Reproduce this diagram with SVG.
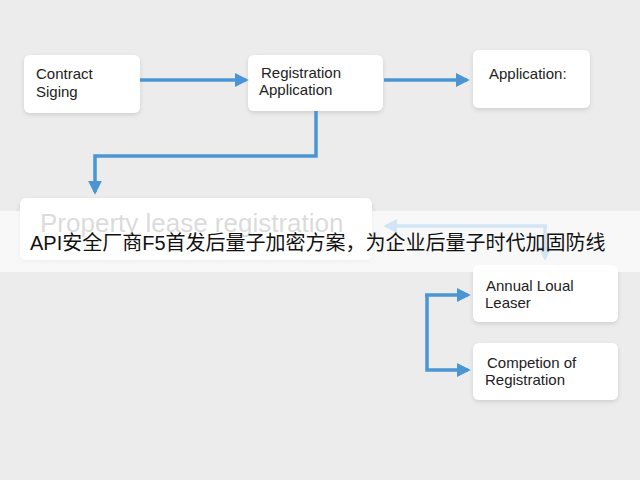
<svg xmlns="http://www.w3.org/2000/svg" width="640" height="480" viewBox="0 0 640 480">
<defs>
<marker id="ah" viewBox="0 0 10 10" refX="8" refY="5" markerWidth="4" markerHeight="4" orient="auto"><path d="M0,0 L10,5 L0,10 z" fill="#4a95d4"/></marker>
<marker id="ahl" viewBox="0 0 10 10" refX="8" refY="5" markerWidth="4" markerHeight="4" orient="auto"><path d="M0,0 L10,5 L0,10 z" fill="#7fb5e3"/></marker>
<filter id="sh" x="-10%" y="-10%" width="120%" height="130%"><feDropShadow dx="0" dy="2" stdDeviation="2" flood-opacity="0.12"/></filter>
</defs>
<style>
.box{fill:#fff;filter:url(#sh)}
.t{font-family:"Liberation Sans",Arial,sans-serif;font-size:15px;fill:#222}
.c{fill:none;stroke:#4a95d4;stroke-width:3.5;marker-end:url(#ah)}
.l{fill:none;stroke:#7fb5e3;stroke-width:3.5}
</style>
<rect width="640" height="480" fill="#ececec"/>
<g id="contract"><rect class="box" x="24" y="55" width="116" height="58" rx="6"/><text class="t" x="36" y="79">Contract</text><text class="t" x="36" y="97">Siging</text></g>
<g id="regapp"><rect class="box" x="248" y="55" width="135" height="56" rx="6"/><text class="t" x="261" y="78">Registration</text><text class="t" x="259" y="95">Application</text></g>
<g id="application"><rect class="box" x="473" y="50" width="117" height="58" rx="6"/><text class="t" x="489" y="79">Application:</text></g>
<g id="property"><rect class="box" x="20" y="198" width="352" height="62" rx="6"/><text x="40" y="232" style="font-family:'Liberation Sans',Arial,sans-serif;font-size:26px;fill:#999">Property lease registration</text></g>
<g id="annual"><rect class="box" x="473" y="265" width="145" height="57" rx="6"/><text class="t" x="486" y="291">Annual Loual</text><text class="t" x="485" y="308">Leaser</text></g>
<g id="competion"><rect class="box" x="473" y="343" width="145" height="57" rx="6"/><text class="t" x="487" y="368">Competion of</text><text class="t" x="485" y="385">Registration</text></g>
<g id="connectors">
<path class="c" d="M140,80 H246"/>
<path class="c" d="M384,80 H467"/>
<path class="c" d="M316,111 V156 H95 V192"/>
<path class="l" d="M545,226 V258" marker-end="url(#ahl)"/>
<path class="l" d="M547,226 H386" marker-end="url(#ahl)"/>
<path class="c" d="M427,295 V370 H468"/>
<path class="c" d="M425,295 H468"/>
</g>
<rect x="0" y="211" width="640" height="61" fill="#fff" fill-opacity="0.65"/>
<text x="30" y="250" style="font-family:'Liberation Sans','Noto Sans CJK SC',sans-serif;font-size:20px;fill:#111">API安全厂商F5首发后量子加密方案，为企业后量子时代加固防线</text>
</svg>
